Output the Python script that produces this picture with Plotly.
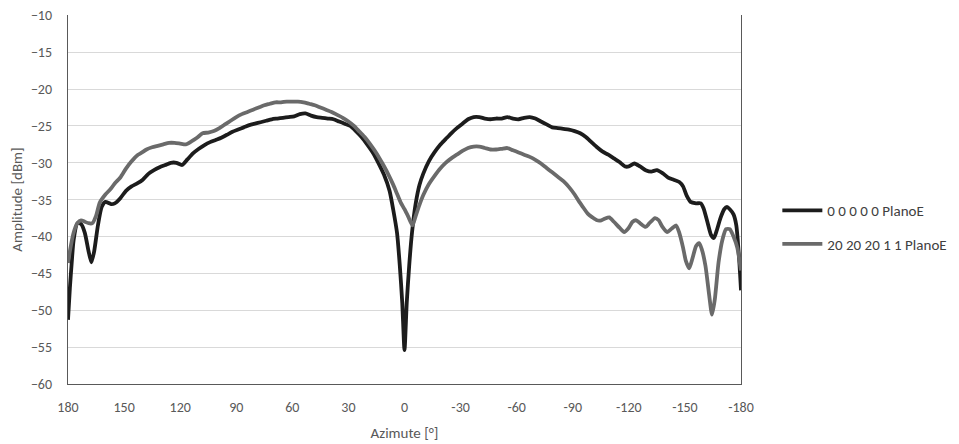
import plotly.graph_objects as go

# Black series: "0 0 0 0 0 PlanoE"
az_black = [180, 179, 178, 177, 175, 173, 171, 169, 167.5, 166, 164, 162, 160, 157, 155, 152, 149, 146, 143, 140,
            137, 134, 131, 128, 125, 122, 119, 116, 113, 110, 107, 104, 101, 98, 95, 92, 89, 86, 83, 80,
            77, 74, 71, 68, 65, 62, 59, 56, 53, 50, 47, 44, 41, 38, 35, 32, 29, 26, 23, 20,
            17, 14, 11, 8, 6, 4, 2.5, 1.2, 0, -1.2, -2.5, -4, -6, -8, -10, -13, -16, -19, -22, -25,
            -28, -31, -34, -37, -40, -43, -46, -49, -52, -55, -58, -61, -64, -67, -70, -73, -76, -79, -82, -85,
            -88, -91, -94, -97, -100, -103, -106, -109, -112, -115, -118, -120, -123, -126, -129, -132, -135, -138, -141, -144,
            -147, -149, -151, -153, -156, -158.5, -160, -162, -164, -165.5, -167, -169, -171, -172.5, -174, -176, -177.5, -179, -180]
amp_black = [-51.3, -47, -43.5, -40.5, -38.2, -38.3, -39.5, -42, -43.5, -42, -38.5, -36, -35.3, -35.6, -35.5, -34.8, -33.8, -33.2, -32.8, -32.3,
             -31.5, -31, -30.6, -30.3, -30, -30, -30.3, -29.5, -28.7, -28.1, -27.6, -27.2, -26.9, -26.6, -26.2, -25.8, -25.5, -25.2, -24.9, -24.7,
             -24.5, -24.3, -24.1, -24.0, -23.9, -23.8, -23.7, -23.4, -23.3, -23.6, -23.8, -23.9, -24.0, -24.1, -24.4, -24.7, -25.0, -25.7, -26.5, -27.5,
             -28.6, -30.0, -31.6, -33.8, -36.4, -39.5, -44, -49, -55.4, -49, -44, -39.5, -35.5, -33.0, -31.5, -29.8, -28.6, -27.6, -26.8, -26.0,
             -25.3, -24.7, -24.1, -23.8, -23.8, -24.0, -24.1, -24.0, -24.0, -23.8, -24.0, -24.1, -23.9, -23.8, -24.0, -24.4, -24.8, -25.2, -25.3, -25.4,
             -25.5, -25.7, -26.0, -26.5, -27.2, -27.9, -28.5, -28.9, -29.4, -29.9, -30.5, -30.5, -30.1, -30.5, -31.0, -31.2, -31.0, -31.4, -32.0, -32.3,
             -32.6, -33.2, -34.5, -35.3, -35.5, -35.5, -36.2, -38.0, -39.8, -40.2, -39.2, -37.5, -36.3, -36.0, -36.3, -37.0, -38.5, -43.0, -47.3]

# Gray series: "20 20 20 1 1 PlanoE"
az_gray = [180, 179, 177, 175, 173, 171, 169, 167, 165, 163, 160, 157, 155, 152, 149, 146, 143, 141, 138, 135,
           132, 129, 126, 123, 120, 117, 114, 111, 108, 105, 102, 99, 96, 93, 90, 87, 84, 81, 78, 75,
           72, 69, 66, 63, 60, 57, 54, 51, 48, 45, 42, 39, 36, 33, 30, 27, 24, 21, 18, 15,
           12, 9, 6, 4, 2, 0, -2, -4.3, -6, -8, -10, -13, -16, -19, -22, -25, -28, -31, -34, -37,
           -40, -43, -46, -49, -52, -55, -58, -61, -64, -67, -70, -73, -76, -79, -82, -85, -88, -91, -93.5, -96,
           -98, -100.5, -103, -105.3, -107, -109.5, -112, -115, -117.5, -120, -122, -124, -126, -129, -131, -134, -136, -138, -140.5, -143,
           -145.3, -147, -149, -150.5, -152.3, -154, -156, -157.6, -159, -161, -163, -164.5, -166, -168, -170, -172, -174, -176, -178, -180]
amp_gray = [-43.6, -42, -39.5, -38.2, -37.8, -38, -38.2, -38.2, -37.2, -35.4, -34.3, -33.5, -32.8, -32.0, -30.8, -29.8, -29.0, -28.7, -28.2, -27.9,
            -27.7, -27.5, -27.3, -27.3, -27.4, -27.5, -27.1, -26.6, -26.0, -25.9, -25.7, -25.3, -24.8, -24.3, -23.8, -23.4, -23.1, -22.8, -22.5, -22.2,
            -22.0, -21.8, -21.8, -21.7, -21.7, -21.7, -21.8, -22.0, -22.2, -22.5, -22.8, -23.1, -23.5, -23.9, -24.4, -25.0, -25.8, -26.6, -27.6, -28.7,
            -30.0, -31.4, -33.0, -34.2, -35.4, -36.3, -37.3, -38.5, -37.2, -35.7, -34.4, -32.9, -31.8, -30.8, -30.0, -29.4, -28.9, -28.4, -28.0, -27.8,
            -27.8, -28.0, -28.2, -28.2, -28.1, -28.0, -28.3, -28.6, -28.9, -29.2, -29.6, -30.1, -30.7, -31.3, -31.9, -32.5, -33.3, -34.3, -35.3, -36.2,
            -36.9, -37.4, -37.8, -37.8, -37.6, -37.4, -38.0, -38.8, -39.4, -38.8, -38.0, -37.8, -38.2, -38.7, -38.2, -37.5, -37.8, -38.7, -39.4, -38.9,
            -38.5, -39.5, -41.5, -43.3, -44.3, -43.0, -41.3, -40.9, -41.7, -44.0, -48.0, -50.6, -48.5, -43.5, -40.5, -39.0, -39.0, -40.0, -41.5, -44.6]

x_ticks = [180, 150, 120, 90, 60, 30, 0, -30, -60, -90, -120, -150, -180]
x_tick_labels = ["180", "150", "120", "90", "60", "30", "0", "-30", "-60", "-90", "-120", "-150", "-180"]
y_ticks = [-10, -15, -20, -25, -30, -35, -40, -45, -50, -55, -60]

font_family = "Carlito, 'Open Sans', Lato, sans-serif"
text_color = "#595959"

fig = go.Figure()
fig.add_trace(go.Scatter(x=az_black, y=amp_black, mode="lines", name="0 0 0 0 0 PlanoE", legendgroup="a",
                         line=dict(color="#1c1c1c", width=3.8, shape="spline", smoothing=0.6)))
fig.add_trace(go.Scatter(x=az_gray, y=amp_gray, mode="lines", name="20 20 20 1 1 PlanoE", legendgroup="b",
                         line=dict(color="#6a6a6a", width=3.8, shape="spline", smoothing=0.6)))

fig.update_layout(
    width=951, height=436,
    margin=dict(l=60, r=218, t=7, b=60, autoexpand=False),
    paper_bgcolor="white", plot_bgcolor="white",
    font=dict(family=font_family, size=14, color=text_color),
    legend=dict(x=1.054, y=0.425, xanchor="left", yanchor="middle",
                font=dict(size=15, color="#404040"), tracegroupgap=11,
                itemwidth=40, bgcolor="rgba(0,0,0,0)"),
    showlegend=True,
)
fig.update_xaxes(range=[180, -180], tickvals=x_ticks, ticktext=x_tick_labels, automargin=False,
                 showgrid=False, zeroline=False, showline=True, linecolor="#595959", linewidth=1.3,
                 mirror=False, ticks="outside", ticklen=10, tickcolor="rgba(0,0,0,0)",
                 tickfont=dict(size=14, color=text_color), ticklabeloverflow="allow",
                 title=dict(text="Azimute [°]", font=dict(size=15, color=text_color), standoff=12))
fig.update_yaxes(range=[-60, -9.96], tickvals=y_ticks, showgrid=True, gridcolor="#d9d9d9", gridwidth=1,
                 zeroline=False, showline=True, linecolor="#595959", linewidth=1.3, mirror=True,
                 ticks="outside", ticklen=12, tickcolor="rgba(0,0,0,0)", automargin=False,
                 tickfont=dict(size=14, color=text_color), ticklabeloverflow="allow",
                 title=dict(text="Amplitude [dBm]", font=dict(size=15, color=text_color), standoff=16))

fig.write_html("out.html")
